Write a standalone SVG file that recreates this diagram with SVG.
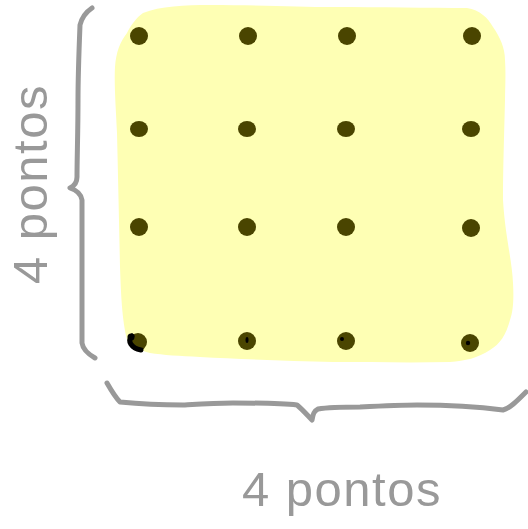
<svg xmlns="http://www.w3.org/2000/svg" width="528" height="529" viewBox="0 0 528 529">
<style>
.brace{fill:none;stroke:#999999;stroke-width:5;stroke-linecap:round;stroke-linejoin:round}
.dot{fill:#4a4500}
.mark{fill:#000}
.label{font-family:"Liberation Sans",Arial,sans-serif;font-size:49px;fill:#999999;letter-spacing:1.5px}
</style>
<rect width="528" height="529" fill="#ffffff"/>
<g id="area">
<path d="M143 13 C160 6 185 5 210 5 C260 5 300 7 333 7 C380 7 430 8 467 8 C480 10 488 18 493 27 C500 37 505 48 505 60 C506 75 505 90 505 100 C504 140 503 170 503 200 C505 235 512 260 513 283 C514 300 513 312 510 320 C506 335 500 344 490 350 C478 358 465 361 450 362 C410 363 370 362 333 362 C290 361 240 359 200 357 C180 356 163 355 150 353 C138 350 130 346 127 340 C122 320 121 295 120 267 C119 220 118 175 117 133 C116 110 114 85 115 67 C116 52 120 42 127 33 C131 25 136 18 143 13 Z" fill="#feffb4"/>
</g>
<g id="dots">
<ellipse class="dot" cx="139" cy="36" rx="9" ry="9"/>
<ellipse class="dot" cx="248" cy="36" rx="9" ry="9"/>
<ellipse class="dot" cx="347" cy="36" rx="9" ry="9"/>
<ellipse class="dot" cx="472" cy="36" rx="9" ry="9"/>
<ellipse class="dot" cx="139" cy="129" rx="9" ry="8"/>
<ellipse class="dot" cx="247" cy="129" rx="9" ry="8"/>
<ellipse class="dot" cx="346" cy="129" rx="9" ry="8"/>
<ellipse class="dot" cx="471" cy="129" rx="9" ry="8"/>
<ellipse class="dot" cx="139" cy="227" rx="9" ry="9"/>
<ellipse class="dot" cx="247" cy="227" rx="9" ry="9"/>
<ellipse class="dot" cx="346" cy="227" rx="9" ry="9"/>
<ellipse class="dot" cx="471" cy="228" rx="9" ry="9"/>
<ellipse class="dot" cx="138" cy="342" rx="9" ry="9"/>
<ellipse class="dot" cx="247" cy="341" rx="9" ry="9"/>
<ellipse class="dot" cx="346" cy="341" rx="9" ry="9"/>
<ellipse class="dot" cx="470" cy="343" rx="9" ry="9"/>
<path d="M132 336 C127 341 131 348 141 350" fill="none" stroke="#000" stroke-width="5" stroke-linecap="round"/>
<circle class="mark" cx="131" cy="337" r="3.5"/>
<ellipse class="mark" cx="247" cy="340" rx="1.5" ry="3"/>
<circle class="mark" cx="342" cy="339" r="2"/>
<circle class="mark" cx="468" cy="343" r="2.2"/>
</g>
<g id="connectors">
<path class="brace" d="M92 8 C86 12 82 17 80 25 C79 50 78 80 78 100 C78 130 77 160 77 177 C77 183 74 186 70 188 C76 190 81 193 82 200 C82 260 82 310 82 343 C83 350 88 354 95 358"/>
<path class="brace" d="M107 383 C111 390 115 397 120 402 C140 404 160 405 183 405 C200 404 215 403 233 403 C255 403 280 403 297 405 C303 410 308 416 312 420 C313 414 314 411 318 409 C330 407 345 407 360 407 C380 406 400 405 417 405 C450 405 480 407 503 410 C510 408 516 402 526 392"/>
</g>
<g id="labels">
<text class="label" x="342" y="506" text-anchor="middle">4 pontos</text>
<text class="label" transform="translate(47 184) rotate(-90)" text-anchor="middle">4 pontos</text>
</g>
</svg>
